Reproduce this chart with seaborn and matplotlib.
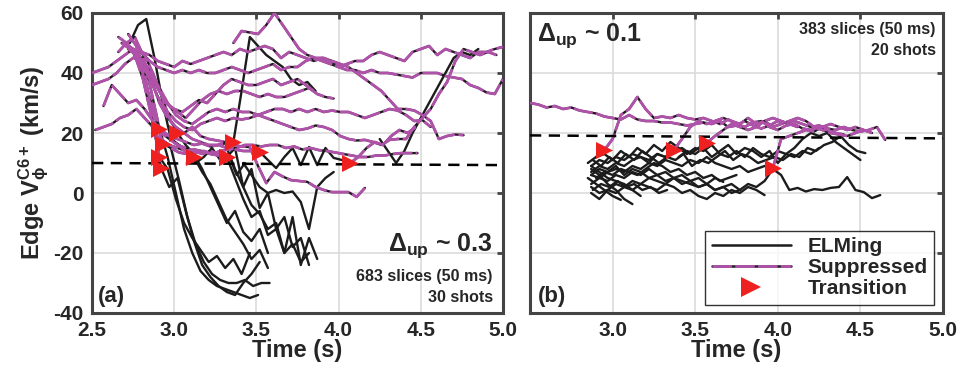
import numpy as np
import pandas as pd
import seaborn as sns
import matplotlib
matplotlib.use("Agg")
import matplotlib.pyplot as plt
from matplotlib.lines import Line2D

# ---------------- data ----------------
DT = 0.05  # 50 ms slices
x_ticks = [2.5, 3.0, 3.5, 4.0, 4.5, 5.0]
x_labels_a = ["2.5", "3.0", "3.5", "4.0", "4.5", "5.0"]
x_labels_b = ["", "3.0", "3.5", "4.0", "4.5", "5.0"]
y_ticks = [-40, -20, 0, 20, 40, 60]

# reference (dashed) levels at t=2.5 and t=5.0
ref_t = [2.5, 5.0]
ref_a = [10.0, 9.3]
ref_b = [19.2, 18.2]

# ---- panel (a): shots; start state, switch indices, start time, values
a01 = [47, 50, 52, 46, 34, 21.5, 12, 0, -12, -20, -26, -29, -31, -32, -33, -34, -35, -34]
a02 = [50, 48, 45, 36, 26, 16.5, 15, 4, -8, -17, -23, -27, -29, -30, -30, -29, -31, -30, -30]
a03 = [52, 50, 46, 38, 26, 12, 8, -2, -10, -15, -19, -23, -21, -25, -22, -27, -20]
a04 = [53, 49, 40, 24, 8.3, 2, 5, -6, -16, -24, -28, -31, -33, -34, -30, -27, -23]
a05 = [49, 46, 40, 33, 25, 20, 16, 13, 8, 2, -4, -10, -6, -13, -16, -12, -20]
a06 = [29, 36, 33, 30, 31, 28, 24, 21, 19, 16, 14, 12, 7, 3, -3, -9, -13, -17, -22, -19, -25]
a07 = [21, 22, 23, 25, 26, 28, 25, 22, 20, 18, 16, 15, 14, 13, 14, 13, 12, 15, 2, 8, -5, 0, -12, -8, -18, -15, -24]
a08 = [45, 38, 30, 25, 22, 20, 22, 19, 18, 17.5, 17, 17, 34, 52, 49, 46, 44, 42, 38, 36, 37, 34]
a09 = [50, 54, 53.5, 53, 56, 60, 56, 52, 48, 46, 45, 45, 44, 43, 42, 40, 38, 36, 34, 31, 28, 28, 27.5, 26, 24, 18, 19, 19.5, 19.3]
a10 = [40, 41, 42, 44, 46, 48, 47, 46, 44, 43, 42, 44, 43, 44, 45, 46, 47, 46, 48, 47, 48, 49, 48, 45, 47, 46,
       45, 44, 45, 44, 42, 43, 44, 44, 46, 47, 46, 45, 44, 47, 48, 49, 46, 48, 47, 46, 45, 47, 47, 48, 48.7]
a11 = [36, 37, 38, 40, 43, 45, 47, 44, 42, 41, 40, 41, 40, 41, 40, 40, 41, 42, 41, 40, 41, 42, 43, 41, 42, 42,
       44, 45, 44, 43, 42, 41, 41, 40, 41, 40, 40, 39.5, 39, 38.5, 40, 40, 40, 39, 38.5, 38, 36, 35, 33.5, 33, 38]
a12 = [50, 48, 45, 40, 35, 30, 28, 27, 29, 31, 30, 33, 36, 38, 37, 36, 36, 37, 38, 36, 37, 38, 36, 34]
a13 = [48, 46, 42, 38, 33, 29, 27, 25, 28, 31, 33, 34, 33, 34, 34, 33, 32, 33, 32, 32, 33, 34, 35, 33, 32, 31.5]
a14 = [46, 44, 40, 35, 30, 26, 24, 23, 25, 27, 28, 27, 28, 27, 27, 26, 27, 28, 28, 27, 28, 27, 28, 27, 27.5, 27,
       27, 26, 25, 26, 27, 28, 27.5, 26, 24, 24.3, 22]
a15 = [45, 42, 37, 31, 27, 24, 22, 21, 23, 24, 25, 24, 25, 24.5, 25, 26, 25, 24, 23, 22, 21, 21.5, 22.5, 22, 21,
       19, 18, 17.5, 17.7, 17, 16, 17.7, 18, 18, 22, 25, 28, 33, 37, 44, 48, 47, 46, 47, 46]
a16 = [20, 17, 15, 13.5, 13, 13.5, 14, 13, 14, 14.5, 15, 16, 16, 15.5, 16, 16, 15, 15.5, 14.5, 15, 14.3, 14,
       13.5, 13, 12.5, 12, 12, 12.5, 12.5, 13, 13.3, 13.3, 13.3]
a17 = [20, 18, 17, 16, 16, 16.5, 16, 15.5, 15.3, 9, 3.3, 7, 5.5, 4.3, 4, 3.7, 2, 1, 0.3, 0.3, 0.3, -1.3, 1.7]
a18 = [50, 56, 58, 45, 30, 18, 16, 14, 10, 12, 15, 11, 13, 6, 10]
a19 = [19, 18, 17, 16, 16.5, 15.5, 16, 15, 14.5, 14, 14, 13.7, 11, 8.3, 12, 15, 9.3, 15.3, 9.3, 15, 11.7, 11, 10,
       12, 15, 17, 16, 19, 21, 20, 22]
a20 = [10, 6, 2, 0, 1, 0, 0.5, -3, -12, 2, 5, 7]
a21 = [15, 8, 2, -4, -7, -12, -10, -20, -8, -24, -15, -22]
a22 = [18, 16, 15, 14, 14.5, 14, 13, 12.5, 12, 5, -2, -8, -6, -14, -12, -20, -17, -23, -20]
a23 = [18, 14, 10, 14, 20, 25, 30, 35, 40, 45, 47, 46, 48]

a_vals = [a01, a02, a03, a04, a05, a06, a07, a08, a09, a10, a11, a12, a13, a14, a15, a16,
          a17, a18, a19, a20, a21, a22, a23]
a_t0 = [2.66, 2.68, 2.66, 2.72, 2.77, 2.57, 2.52, 2.81, 3.36, 2.50, 2.50, 2.70, 2.72, 2.76, 2.76, 2.88,
        3.06, 2.73, 2.97, 3.42, 3.32, 2.92, 4.25]
a_start = ["M", "M", "M", "M", "M", "M", "M", "M", "M", "M", "M", "M", "M", "M", "M", "M",
           "M", "B", "M", "B", "B", "M", "B"]
a_switch = [[5], [5], [5], [4], [5], [11], [16], [11], [], [], [], [], [], [], [], [],
            [], [], [11, 22], [], [], [8], []]

# ---- panel (b)
b01 = [30, 29.5, 28.5, 29, 28, 28.5, 27.5, 27, 26.5, 25.5, 25, 24.5, 26, 24.5, 24, 24, 23.5, 23.5, 23, 22.5,
       23, 23.5, 23, 24, 22, 22.5, 24, 22.5, 21.5, 22.5, 24, 23.5, 24, 23, 22, 22.5, 21.5, 21, 22, 21, 20.5,
       21, 22, 17.7]
b02 = [8, 6, 3, 1, -2, -3.7]
b03 = [5, 3, 1, -1, -2.3]
b04 = [10, 12, 14.3, 18, 26, 28, 32, 28, 25, 25.5, 25, 26, 25, 24.5, 25, 24, 23, 24.5, 23, 22, 23.5, 24, 22,
       21, 22.5, 23, 21.5, 21, 22, 21, 20, 19.5]
b05 = [6, 5, 7, 8, 7, 9, 8, 10, 9, 11, 10, 9, 11, 10, 12, 10, 9, 8, 9, 7, 8, 9, 8.3, 18, 19, 20, 21, 20.5, 22,
       23, 22, 21, 22, 21, 20]
b06 = [2, 0, 1, 3, 2, 4, 3, 5, 4, 3, 5, 4, 3, 2, 3, 1, 2, 0, 1, 3, 2, 4, 8, 6, 1, 1.7, 0.5, 1.3, 1, 1.7, 2,
       5.3, 1, 0.3, -1.7, -0.7]
b07 = [9, 11, 10, 12, 11, 13, 12, 11, 13, 12, 14.3, 18, 22, 24, 23, 24, 25, 24, 23, 25, 23, 24, 22, 23, 24,
       25, 24, 22, 21, 20, 19.5, 19, 20, 21]
b08 = [7, 9, 8, 10, 9, 11, 12, 10, 13, 12, 14, 15, 13, 15, 16.7, 19, 21, 23, 22, 21, 22, 24, 25, 24, 23, 22]
b09 = [12, 14, 13, 15, 12, 14, 16, 13, 15, 14, 12, 14, 10, 13, 15, 18, 20, 19, 20, 17, 15, 13, 11]
b10 = [3, 5, 4, 6, 5, 7, 6, 8, 6, 7, 5, 6, 4, 5, 3, 5, 3.7]
b11 = [0, -2, 1, 0, 2, 1, 3, 2, 1, 3, 2, 0, 1, -1, -2, 0, -1, 1, 0, 2, 1, -0.7]
b12 = [11, 9, 12, 10, 13, 11, 14, 12, 10, 12, 11, 13, 9, 11, 10, 12, 14, 11, 13, 12, 10, 11, 12, 11, 13, 12,
       15, 14, 16, 17, 19, 16, 14, 13.3]
b13 = [5, 7, 6, 8, 7, 6, 8, 10, 9, 7, 8, 6, 7, 5, 6, 4, 5, 6]
b14 = [9, 7, 5, 4, 3, 1, -1]
b15 = [12, 13, 11, 14, 12, 15, 13, 16, 14, 17, 15, 13, 15, 14, 16, 13, 12, 14, 12, 15, 13, 12, 14, 13, 12, 14,
       13, 15]
b16 = [6, 8, 7, 9, 6, 8, 7, 5, 6, 4, 5, 3, 4, 2, 3, 1, 2, 3, 1]
b17 = [1, 3, 2, 4, 2, 3, 1, 2, 0, 1]

b_vals = [b01, b02, b03, b04, b05, b06, b07, b08, b09, b10, b11, b12, b13, b14, b15, b16, b17]
b_t0 = [2.50, 2.87, 2.85, 2.85, 2.87, 2.87, 2.87, 2.87, 3.40, 2.87, 2.87, 2.88, 2.90, 2.87, 2.90, 2.87, 2.88]
b_start = ["M", "B", "B", "B", "B", "B", "B", "B", "B", "B", "B", "B", "B", "B", "B", "B", "B"]
b_switch = [[], [], [], [2], [22], [], [10], [14], [], [], [], [], [], [], [], [], []]

# ---------------- style ----------------
BLACK = "#1c1c1c"
MAG = "#b052aa"
RED = "#ee2020"
SPINE = "#444444"

sns.set_theme(style="white")
plt.rcParams["font.family"] = ["Liberation Sans Narrow", "Liberation Sans", "DejaVu Sans"]
plt.rcParams["font.weight"] = "bold"
plt.rcParams["mathtext.fontset"] = "custom"
plt.rcParams["mathtext.rm"] = "Liberation Sans:bold"
plt.rcParams["mathtext.bf"] = "Liberation Sans:bold"
plt.rcParams["mathtext.it"] = "Liberation Sans:bold"


def build(t0s, starts, switches, vals):
    rows = []
    marks = []
    for k, (t0, st, sw, v) in enumerate(zip(t0s, starts, switches, vals)):
        t = t0 + DT * np.arange(len(v))
        bounds = [0] + list(sw) + [len(v) - 1]
        state = st
        for j in range(len(bounds) - 1):
            a, b = bounds[j], bounds[j + 1]
            for i in range(a, b + 1):
                rows.append({"seg": f"{k}_{j}", "state": state, "t": t[i], "v": v[i]})
            state = "B" if state == "M" else "M"
        for s in sw:
            marks.append({"t": t[s], "v": v[s]})
    return pd.DataFrame(rows), pd.DataFrame(marks)


def draw(ax, t0s, starts, switches, vals, ref):
    df, mk = build(t0s, starts, switches, vals)
    sns.lineplot(data=df, x="t", y="v", units="seg", estimator=None, sort=False,
                 color=BLACK, lw=1.7, ax=ax, legend=False, zorder=3)
    n0 = len(ax.lines)
    sns.lineplot(data=df[df.state == "M"], x="t", y="v", units="seg", estimator=None,
                 sort=False, color=MAG, lw=2.0, ax=ax, legend=False, zorder=4)
    for ln in ax.lines[n0:]:
        ln.set_dashes([7, 1.2])
    sns.lineplot(x=ref_t, y=ref, color="black", lw=1.8, ax=ax, legend=False, zorder=5)
    ax.lines[-1].set_dashes([4.5, 3])
    if len(mk):
        sns.scatterplot(data=mk, x="t", y="v", marker=">", s=150, color=RED,
                        linewidth=0, ax=ax, legend=False, zorder=6)


fig = plt.figure(figsize=(9.57, 3.76), dpi=100)
axa = fig.add_axes([92 / 957, 1 - 313 / 376, 411 / 957, 300 / 376])
axb = fig.add_axes([530 / 957, 1 - 313 / 376, 413 / 957, 300 / 376])

draw(axa, a_t0, a_start, a_switch, a_vals, ref_a)
draw(axb, b_t0, b_start, b_switch, b_vals, ref_b)

for ax, xl in ((axa, x_labels_a), (axb, x_labels_b)):
    ax.set_xlim(2.5, 5.0)
    ax.set_ylim(-40, 60)
    ax.set_xticks(x_ticks)
    ax.set_xticklabels(xl)
    ax.set_yticks(y_ticks)
    ax.grid(True, color="#dcdcdc", lw=1.2, zorder=0)
    ax.set_axisbelow(True)
    for sp in ax.spines.values():
        sp.set_color(SPINE)
        sp.set_linewidth(2.2)
        sp.set_visible(True)
    ax.tick_params(direction="in", length=4, width=2, color=SPINE, top=True, right=True,
                   labelsize=15, pad=6)
    for lab in ax.get_xticklabels() + ax.get_yticklabels():
        lab.set_fontweight("bold")
    ax.set_xlabel("Time (s)", fontsize=17, fontweight="bold", labelpad=-1)
    ax.set_facecolor("white")

axa.set_yticklabels([str(v) for v in y_ticks])
axb.set_yticklabels([])
axb.set_ylabel("")
axa.set_ylabel(r"Edge V$_{\phi}^{\mathrm{C6+}}$ (km/s)", fontsize=17, fontweight="bold", labelpad=2)

# annotations
axa.text(0.975, 0.225, r"$\Delta_{\mathrm{up}}$ ~ 0.3", transform=axa.transAxes, ha="right",
         va="center", fontsize=18, fontweight="bold")
axa.text(0.975, 0.12, "683 slices (50 ms)", transform=axa.transAxes, ha="right", va="center",
         fontsize=11.5, fontweight="bold")
axa.text(0.975, 0.05, "30 shots", transform=axa.transAxes, ha="right", va="center",
         fontsize=11.5, fontweight="bold")
axa.text(0.015, 0.055, "(a)", transform=axa.transAxes, ha="left", va="center",
         fontsize=16, fontweight="bold")

axb.text(0.018, 0.925, r"$\Delta_{\mathrm{up}}$ ~ 0.1", transform=axb.transAxes, ha="left",
         va="center", fontsize=18, fontweight="bold")
axb.text(0.982, 0.945, "383 slices (50 ms)", transform=axb.transAxes, ha="right", va="center",
         fontsize=11.5, fontweight="bold")
axb.text(0.982, 0.875, "20 shots", transform=axb.transAxes, ha="right", va="center",
         fontsize=11.5, fontweight="bold")
axb.text(0.018, 0.055, "(b)", transform=axb.transAxes, ha="left", va="center",
         fontsize=16, fontweight="bold")

h_elm = Line2D([], [], color=BLACK, lw=1.8)
h_sup_b = Line2D([], [], color=BLACK, lw=1.8)
h_sup_m = Line2D([], [], color=MAG, lw=2.0, dashes=[7, 1.2])
h_tr = Line2D([], [], color=RED, marker=">", ms=14, lw=0, markeredgewidth=0)
leg = axb.legend([h_elm, (h_sup_b, h_sup_m), h_tr], ["ELMing", "Suppressed", "Transition"],
                 loc="lower right", bbox_to_anchor=(0.978, 0.028), fontsize=15,
                 frameon=True, fancybox=False, handlelength=3.8, labelspacing=0.1,
                 borderpad=0.3, handletextpad=0.8, borderaxespad=0)
leg.get_frame().set_edgecolor("black")
leg.get_frame().set_linewidth(1.0)
for txt in leg.get_texts():
    txt.set_fontweight("bold")

fig.savefig("out.png", dpi=100, facecolor="white")
